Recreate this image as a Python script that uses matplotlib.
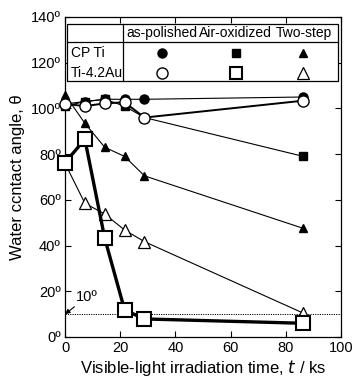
import matplotlib
matplotlib.use("Agg")
import matplotlib.pyplot as plt
from matplotlib.patches import Rectangle

plt.rcParams['font.family'] = ['Liberation Sans', 'DejaVu Sans']

t = [0, 7.2, 14.4, 21.6, 28.8, 86.4]
cp_polished = [102, 103, 104, 104, 104, 105]
cp_air = [101, 103, 104, 101, 96, 79]
cp_two = [106, 93.5, 83, 79, 70.5, 47.5]
au_polished = [102, 101, 102.2, 102.7, 96, 103.4]
au_air = [76.3, 86.5, 43.2, 11.8, 7.9, 6]
au_two = [76, 58.5, 53.8, 46.8, 41.7, 10.4]

xticks = [0, 20, 40, 60, 80, 100]
yticks = [0, 20, 40, 60, 80, 100, 120, 140]
col_labels = ["as-polished", "Air-oxidized", "Two-step"]
row_labels = ["CP Ti", "Ti-4.2Au"]

fig = plt.figure(figsize=(3.52, 3.77), dpi=100)
ax = fig.add_axes([65/352, 1-337/377, 276/352, 320/377])

k = 'black'
# filled (CP Ti)
ax.plot(t, cp_polished, '-', color=k, lw=0.8, marker='o', ms=6.5, mfc=k, mec=k, zorder=3, clip_on=False)
ax.plot(t, cp_air, '-', color=k, lw=0.8, marker='s', ms=6, mfc=k, mec=k, zorder=3, clip_on=False)
ax.plot(t, cp_two, '-', color=k, lw=0.8, marker='^', ms=5.5, mfc=k, mec=k, zorder=3, clip_on=False)
# open (Ti-4.2Au)
ax.plot(t, au_two, '-', color=k, lw=0.8, marker='^', ms=8, mfc='white', mec=k, mew=0.9, zorder=4, clip_on=False)
ax.plot(t, au_polished, '-', color=k, lw=1.4, marker='o', ms=8, mfc='white', mec=k, mew=1.0, zorder=5, clip_on=False)
ax.plot(t, au_air, '-', color=k, lw=2.4, marker='s', ms=9.5, mfc='white', mec=k, mew=1.5, zorder=6, clip_on=False)

ax.axhline(10, color=k, lw=0.7, ls=(0, (1.2, 1.2)), zorder=2)
ax.annotate("10º", xy=(0, 10), xytext=(4.0, 17.5), fontsize=10.5,
            arrowprops=dict(arrowstyle='-|>', color=k, lw=0.8, mutation_scale=7,
                            shrinkA=0, shrinkB=0),
            ha='left', va='center')

ax.set_xlim(0, 100)
ax.set_ylim(0, 140)
ax.set_xticks(xticks)
ax.set_yticks(yticks)
ax.set_yticklabels([f"{v}º" for v in yticks])
ax.tick_params(direction='in', top=True, right=True, length=4, width=0.8, labelsize=10.5, pad=3)
for s in ax.spines.values():
    s.set_linewidth(0.9)
ax.set_xlabel("Visible-light irradiation time, $t$ / ks", fontsize=12, labelpad=2)
ax.set_ylabel("Water ccntact angle, θ", fontsize=12, labelpad=4)

# legend table
tr = ax.transAxes
L, R, T, B = 0.008, 0.988, 0.977, 0.80
ax.add_patch(Rectangle((L, B), R-L, T-B, transform=tr, fill=True, fc='white', ec=k, lw=0.9, zorder=10))
ax.plot([L, R], [0.921, 0.921], transform=tr, color=k, lw=0.9, zorder=11)
ax.plot([0.211, 0.211], [B, T], transform=tr, color=k, lw=0.9, zorder=11)
cols = [0.350, 0.619, 0.864]
for cx, lab in zip(cols, col_labels):
    ax.text(cx, 0.95, lab, transform=tr, ha='center', va='center', fontsize=10, zorder=12)
rows = [0.887, 0.826]
for ry, lab in zip(rows, row_labels):
    ax.text(0.022, ry, lab, transform=tr, ha='left', va='center', fontsize=10, zorder=12)
ax.plot([cols[0]], [rows[0]], 'o', transform=tr, ms=6.5, color=k, zorder=12, clip_on=False)
ax.plot([cols[1]], [rows[0]], 's', transform=tr, ms=6, color=k, zorder=12, clip_on=False)
ax.plot([cols[2]], [rows[0]], '^', transform=tr, ms=5.5, color=k, zorder=12, clip_on=False)
ax.plot([cols[0]], [rows[1]], 'o', transform=tr, ms=8, mfc='white', mec=k, mew=1.0, zorder=12, clip_on=False)
ax.plot([cols[1]], [rows[1]], 's', transform=tr, ms=8.5, mfc='white', mec=k, mew=1.5, zorder=12, clip_on=False)
ax.plot([cols[2]], [rows[1]], '^', transform=tr, ms=8, mfc='white', mec=k, mew=0.9, zorder=12, clip_on=False)

fig.savefig("out.png", dpi=100)
